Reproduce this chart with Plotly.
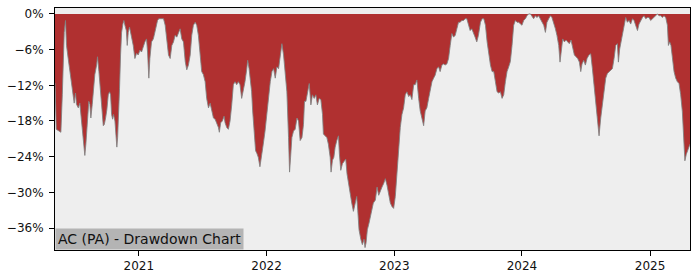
import pandas as pd
import plotly.graph_objects as go

title_text = "AC (PA) - Drawdown Chart"

# decimal-year time stamps
years = [
    2020.345, 2020.355, 2020.370, 2020.391, 2020.402, 2020.409, 2020.417, 2020.427, 2020.435, 2020.448,
    2020.461, 2020.474, 2020.488, 2020.495, 2020.505, 2020.513, 2020.527, 2020.539, 2020.552, 2020.566,
    2020.578, 2020.586, 2020.597, 2020.609, 2020.617, 2020.625, 2020.636, 2020.646, 2020.656, 2020.670,
    2020.677, 2020.688, 2020.698, 2020.709, 2020.722, 2020.730, 2020.740, 2020.750, 2020.761, 2020.771,
    2020.779, 2020.787, 2020.795, 2020.802, 2020.813, 2020.820, 2020.828, 2020.834, 2020.841, 2020.849,
    2020.857, 2020.865, 2020.875, 2020.883, 2020.891, 2020.902, 2020.909, 2020.917, 2020.927, 2020.935,
    2020.943, 2020.956, 2020.969, 2020.982, 2020.995, 2021.008, 2021.021, 2021.034, 2021.047, 2021.060,
    2021.068, 2021.078, 2021.086, 2021.099, 2021.113, 2021.120, 2021.130, 2021.146, 2021.156,
    2021.193, 2021.206, 2021.219, 2021.232, 2021.245, 2021.258, 2021.271, 2021.284, 2021.297, 2021.310,
    2021.323, 2021.336, 2021.349, 2021.363, 2021.375, 2021.388, 2021.402, 2021.414, 2021.427, 2021.441,
    2021.453, 2021.466, 2021.480, 2021.492, 2021.505, 2021.519, 2021.531, 2021.545, 2021.558, 2021.570,
    2021.584, 2021.597, 2021.609, 2021.623, 2021.630, 2021.641, 2021.654, 2021.667, 2021.675, 2021.688,
    2021.701, 2021.714, 2021.727, 2021.740, 2021.753, 2021.766, 2021.779, 2021.792, 2021.805, 2021.818,
    2021.831, 2021.844, 2021.852, 2021.863, 2021.873, 2021.883, 2021.891, 2021.902, 2021.914, 2021.925,
    2021.935, 2021.948, 2021.961, 2021.974, 2021.988, 2022.000,
    2022.016, 2022.029, 2022.042, 2022.055, 2022.068, 2022.081, 2022.094, 2022.107, 2022.120, 2022.133,
    2022.146, 2022.159, 2022.172, 2022.180, 2022.188, 2022.198, 2022.211, 2022.224, 2022.238, 2022.250,
    2022.263, 2022.277, 2022.289, 2022.297, 2022.308, 2022.320, 2022.334, 2022.347, 2022.359, 2022.373,
    2022.386, 2022.398, 2022.412, 2022.425, 2022.438, 2022.445, 2022.459, 2022.472, 2022.484, 2022.498,
    2022.505, 2022.516, 2022.527, 2022.537, 2022.550, 2022.563, 2022.570, 2022.581, 2022.594, 2022.609,
    2022.620, 2022.630, 2022.641, 2022.654, 2022.667, 2022.680, 2022.693, 2022.706, 2022.714, 2022.724,
    2022.738, 2022.750, 2022.763, 2022.771, 2022.779, 2022.789, 2022.802, 2022.818, 2022.836,
    2022.852, 2022.865, 2022.878, 2022.891, 2022.904, 2022.917, 2022.930, 2022.943, 2022.956, 2022.969,
    2022.982, 2022.995, 2023.008, 2023.021, 2023.034, 2023.047, 2023.060, 2023.073, 2023.086, 2023.099,
    2023.113, 2023.125, 2023.138, 2023.152, 2023.164, 2023.177, 2023.191, 2023.203, 2023.216, 2023.230,
    2023.242, 2023.255, 2023.269, 2023.281, 2023.295, 2023.308, 2023.320, 2023.334, 2023.347, 2023.359,
    2023.373, 2023.386, 2023.398, 2023.412, 2023.425, 2023.438, 2023.451, 2023.464, 2023.477, 2023.490,
    2023.503, 2023.516, 2023.529, 2023.542, 2023.555, 2023.568, 2023.581, 2023.594, 2023.607, 2023.620,
    2023.633, 2023.646, 2023.659,
    2023.675, 2023.688, 2023.701, 2023.714, 2023.727, 2023.740, 2023.753, 2023.766, 2023.779, 2023.792,
    2023.805, 2023.818, 2023.831, 2023.844, 2023.857, 2023.870, 2023.883, 2023.896, 2023.909, 2023.922,
    2023.935, 2023.948, 2023.961, 2023.974, 2023.988, 2024.000, 2024.013, 2024.027, 2024.039, 2024.052,
    2024.066, 2024.078, 2024.091, 2024.105, 2024.117, 2024.130, 2024.144, 2024.156, 2024.170, 2024.183,
    2024.195, 2024.209, 2024.222, 2024.234, 2024.248, 2024.261, 2024.273, 2024.287, 2024.297, 2024.308,
    2024.318, 2024.331, 2024.344, 2024.357, 2024.370, 2024.383, 2024.396, 2024.409, 2024.422, 2024.435,
    2024.448, 2024.459, 2024.469, 2024.482, 2024.495, 2024.508,
    2024.523, 2024.537, 2024.550, 2024.563, 2024.576, 2024.589, 2024.602, 2024.615, 2024.628, 2024.641,
    2024.654, 2024.667, 2024.680, 2024.693, 2024.706, 2024.719, 2024.732, 2024.745, 2024.753, 2024.763,
    2024.773, 2024.784, 2024.797, 2024.810, 2024.823, 2024.836, 2024.849, 2024.863, 2024.875, 2024.888,
    2024.902, 2024.914, 2024.927, 2024.941, 2024.953, 2024.966, 2024.980, 2024.992, 2025.005, 2025.019,
    2025.031, 2025.045, 2025.058, 2025.070, 2025.084, 2025.097, 2025.109, 2025.123, 2025.136, 2025.144,
    2025.154, 2025.164, 2025.175, 2025.188, 2025.201, 2025.214, 2025.227, 2025.240, 2025.253, 2025.261,
    2025.269, 2025.273, 2025.284, 2025.295, 2025.305, 2025.313,
]

# drawdown in percent
drawdown_pct = [
    -11.6, -19.4, -19.6, -19.9, -13.6, -6.9, -3.1, -1.1, -5.3, -7.5,
    -9.7, -11.9, -14.2, -15.0, -13.3, -15.2, -15.8, -15.0, -18.0, -20.8,
    -23.8, -21.9, -18.6, -14.7, -15.2, -17.5, -15.2, -12.5, -10.2, -8.6,
    -7.2, -9.7, -11.9, -15.3, -18.8, -18.6, -17.5, -16.1, -13.6, -13.1,
    -13.6, -16.9, -17.7, -16.9, -18.0, -19.7, -22.4, -20.8, -18.0, -12.5,
    -6.9, -3.1, -1.7, -1.1, -1.9, -2.8, -5.3, -3.1, -2.2, -3.1,
    -4.2, -5.3, -7.5, -6.6, -6.9, -6.1, -6.4, -5.3, -4.7, -4.2,
    -6.4, -10.8, -7.5, -4.7, -4.2, -3.6, -2.5, -1.1, -0.8,
    -0.8, -1.9, -4.2, -6.9, -7.5, -5.3, -4.7, -3.6, -3.9, -3.1,
    -2.5, -4.2, -4.7, -8.0, -9.4, -8.6, -6.9, -3.6, -1.9, -1.4,
    -1.9, -3.6, -6.4, -9.7, -10.2, -11.4, -14.2, -15.8, -15.0, -16.3,
    -17.5, -17.7, -18.3, -19.1, -19.9, -18.3, -18.0, -17.2, -18.3, -19.1,
    -19.4, -18.0, -15.3, -11.9, -11.4, -11.9, -11.4, -11.9, -14.2, -13.0,
    -11.4, -9.4, -7.8, -9.2, -10.8, -13.1, -16.3, -19.7, -23.0, -23.5,
    -24.1, -25.7, -24.1, -21.9, -19.7, -16.9,
    -13.1, -11.4, -9.7, -9.2, -10.8, -8.9, -9.2, -6.9, -5.0, -6.9,
    -10.8, -13.1, -20.8, -26.6, -24.1, -20.8, -19.7, -19.4, -17.5, -18.0,
    -21.3, -20.8, -18.6, -14.7, -14.7, -13.1, -11.7, -15.3, -13.6, -14.2,
    -13.6, -15.3, -14.2, -14.4, -16.9, -20.2, -20.5, -20.8, -21.9, -24.1,
    -26.6, -24.6, -24.1, -22.4, -21.3, -20.5, -23.5, -26.3, -25.2, -24.6,
    -24.4, -26.9, -28.5, -30.7, -31.8, -33.2, -31.8, -30.7, -33.0, -36.3,
    -37.9, -38.8, -37.9, -39.3, -38.5, -36.3, -35.2, -33.5, -31.8,
    -31.3, -29.1, -30.5, -29.6, -29.1, -28.5, -27.7, -28.8, -30.7, -31.8,
    -32.4, -32.7, -30.7, -26.3, -21.9, -19.1, -16.9, -15.8, -13.6, -13.1,
    -13.9, -13.6, -14.4, -11.9, -11.9, -11.1, -14.2, -16.3, -17.5, -18.8,
    -16.3, -15.8, -14.2, -13.1, -11.4, -10.8, -10.3, -9.2, -8.9, -9.7,
    -8.6, -8.4, -8.6, -8.4, -7.5, -5.3, -3.3, -3.9, -3.6, -2.5,
    -1.4, -1.4, -1.1, -1.1, -0.8, -0.8, -1.7, -2.8, -2.5, -3.1,
    -3.9, -4.7, -3.6,
    -1.4, -0.8, -0.8, -1.9, -4.7, -6.9, -8.6, -9.7, -9.7, -11.4,
    -13.1, -13.3, -13.1, -14.2, -13.6, -11.4, -9.7, -8.9, -8.0, -5.3,
    -1.9, -1.1, -1.4, -1.4, -1.7, -1.9, -1.1, -0.8, -0.3, 0.0,
    0.0, -0.3, -0.8, -0.3, -0.6, -0.3, -0.8, -1.4, -1.9, -3.1,
    -1.4, -0.8, -0.3, -0.6, -1.4, -2.5, -3.6, -5.3, -8.1, -5.9,
    -4.2, -4.7, -4.4, -4.7, -5.0, -4.4, -5.9, -6.9, -7.2, -7.5,
    -8.1, -9.7, -8.4, -7.8, -8.6, -7.5,
    -6.9, -6.7, -9.2, -11.9, -15.3, -18.0, -20.5, -17.5, -15.3, -13.1,
    -10.8, -10.0, -9.7, -9.4, -9.2, -7.5, -5.3, -5.0, -8.1, -5.9,
    -4.7, -3.1, -1.7, -0.6, -1.4, -1.1, -1.7, -0.8, -1.1, -1.9,
    -2.8, -1.7, -1.1, -0.6, -0.3, -0.8, -0.6, -0.6, -1.1, -0.8,
    -0.6, -0.3, 0.0, -0.3, -0.3, -0.6, -0.3, -0.6, -1.9, -5.3,
    -4.7, -5.3, -7.5, -9.7, -10.8, -11.4, -11.7, -13.6, -16.4, -19.7,
    -23.0, -24.7, -23.6, -23.0, -22.5, -21.9,
]

y_ticks = [0, -6, -12, -18, -24, -30, -36]
y_tick_labels = ["0%", "\u22126%", "\u221212%", "\u221218%", "\u221224%", "\u221230%", "\u221236%"]
x_tick_years = [2021, 2022, 2023, 2024, 2025]


def to_date(t):
    y = int(t)
    start = pd.Timestamp(year=y, month=1, day=1)
    end = pd.Timestamp(year=y + 1, month=1, day=1)
    return start + (end - start) * (t - y)


dates = [to_date(t) for t in years]

fig = go.Figure()
fig.add_trace(go.Scatter(
    x=dates, y=drawdown_pct, mode="lines", fill="tozeroy",
    fillcolor="#b03030", line=dict(color="rgba(128,128,128,0.85)", width=1),
    hoverinfo="skip", showlegend=False,
))

fig.update_layout(
    width=700, height=280,
    margin=dict(l=53, r=10, t=7, b=28),
    paper_bgcolor="white", plot_bgcolor="#eeeeee",
    font=dict(family="DejaVu Sans", size=12, color="#111111"),
    xaxis=dict(
        range=[dates[0], dates[-1]],
        tickvals=[pd.Timestamp(year=y, month=1, day=1) for y in x_tick_years],
        ticktext=[str(y) for y in x_tick_years],
        showgrid=False, zeroline=False,
        showline=True, linecolor="black", linewidth=1, mirror=True,
        ticks="outside", ticklen=5, tickcolor="black",
    ),
    yaxis=dict(
        range=[-39.7, 1.0],
        tickvals=y_ticks, ticktext=y_tick_labels,
        showgrid=False, zeroline=False,
        showline=True, linecolor="black", linewidth=1, mirror=True,
        ticks="outside", ticklen=5, tickcolor="black",
        ticklabelstandoff=3,
    ),
    annotations=[dict(
        text=title_text, xref="paper", yref="paper", x=0, y=0,
        xanchor="left", yanchor="bottom", showarrow=False,
        font=dict(family="DejaVu Sans", size=14, color="#111111"),
        bgcolor="#b4b4b4", borderpad=2,
    )],
)

fig.write_html("out.html")
